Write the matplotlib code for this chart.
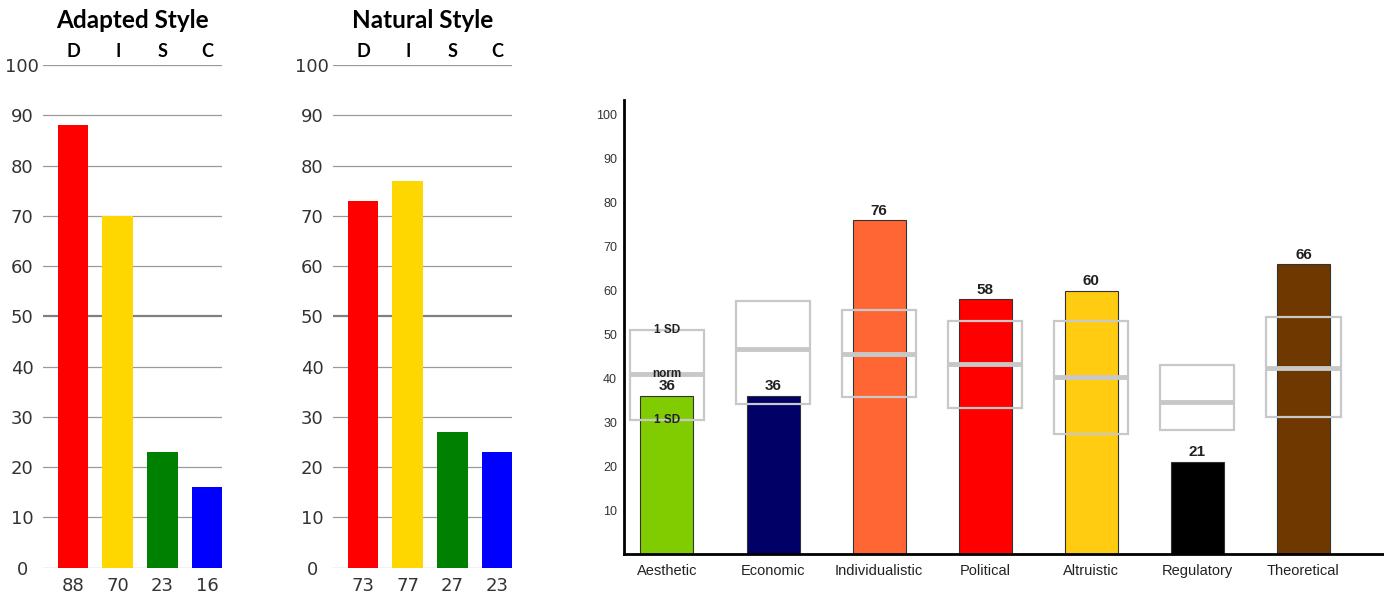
import matplotlib.pyplot as plt
import numpy as np

# DISC data
disc_letters = ['D', 'I', 'S', 'C']
adapted = [88, 70, 23, 16]
natural = [73, 77, 27, 23]
disc_colors = ['#ff0000', '#ffd700', '#008000', '#0000ff']
disc_ticks = [0, 10, 20, 30, 40, 50, 60, 70, 80, 90, 100]

# motivators data
motivators = ['Aesthetic', 'Economic', 'Individualistic', 'Political',
              'Altruistic', 'Regulatory', 'Theoretical']
scores = [36, 36, 76, 58, 60, 21, 66]
norm = [41, 46.7, 45.5, 43.2, 40.2, 34.7, 42.3]
sd_low = [30.5, 34.2, 35.8, 33.2, 27.3, 28.2, 31.3]
sd_high = [51, 57.7, 55.6, 53.1, 53.1, 43, 54]
mot_colors = ['#80cc00', '#000066', '#ff6633', '#ff0000',
              '#ffcc11', '#000000', '#6e3800']
mot_ticks = [10, 20, 30, 40, 50, 60, 70, 80, 90, 100]

fig = plt.figure(figsize=(13.84, 5.95), dpi=100)


def disc_chart(left, title, values):
    ax = fig.add_axes([left / 1384, 27.3 / 595, 179 / 1384, 502.7 / 595])
    x = np.arange(len(values))
    ax.bar(x, values, width=0.69, color=disc_colors, zorder=2)
    # gridlines, 50 is the darker one
    for t in disc_ticks:
        if t == 50:
            ax.axhline(t, color='#808080', lw=1.6, zorder=1)
        else:
            ax.axhline(t, color='#9a9a9a', lw=0.9, zorder=1)
    ax.set_xlim(-0.67, 3.33)
    ax.set_ylim(0, 100)
    for s in ax.spines.values():
        s.set_visible(False)
    ax.set_yticks(disc_ticks)
    ax.set_yticklabels([str(t) for t in disc_ticks], fontsize=13, color='#333333', ha='center')
    ax.tick_params(axis='y', length=0, pad=15)
    ax.set_xticks(x)
    ax.set_xticklabels([str(v) for v in values], fontsize=13, color='#333333')
    ax.tick_params(axis='x', length=0, pad=7)
    # DISC letters on top and the title
    for i, l in enumerate(disc_letters):
        ax.text(i, 1.026, l, transform=ax.get_xaxis_transform(), ha='center', va='center',
                fontsize=13, fontweight='bold', family='Lato')
    ax.text(0.5, 1.0895, title, transform=ax.transAxes, ha='center', va='center',
            fontsize=17.5, fontweight='bold', family='Lato')
    return ax


disc_chart(43, 'Adapted Style', adapted)
disc_chart(333, 'Natural Style', natural)

# motivators chart on the right
ax = fig.add_axes([624 / 1384, 41 / 595, 760 / 1384, 454 / 595])
x = np.arange(len(motivators))
ax.bar(x, scores, width=0.5, color=mot_colors, edgecolor='#333333', lw=0.8, zorder=2)

# norm boxes (1 SD either side) drawn over the bars
box_h = np.array(sd_high) - np.array(sd_low)
ax.bar(x, box_h, bottom=sd_low, width=0.7, fill=False, edgecolor='#c8c8c8', lw=1.6, zorder=3)
ax.hlines(norm, x - 0.35, x + 0.35, color='#c8c8c8', lw=3.5, zorder=3)

for i, v in enumerate(scores):
    ax.text(i, v + 0.6, str(v), ha='center', va='bottom', fontsize=11,
            fontweight='bold', color='#222222', family='Liberation Sans', zorder=5)

# labels on the first box only
ax.text(0, sd_high[0], '1 SD', ha='center', va='center', fontsize=8.5, fontweight='bold',
        color='#222222', family='Liberation Sans', zorder=5)
ax.text(0, norm[0], 'norm', ha='center', va='center', fontsize=8.5, fontweight='bold',
        color='#222222', family='Liberation Sans', zorder=5)
ax.text(0, sd_low[0], '1 SD', ha='center', va='center', fontsize=8.5, fontweight='bold',
        color='#222222', family='Liberation Sans', zorder=5)

ax.set_xlim(-0.405, 6.76)
ax.set_ylim(0, 103.4)
ax.spines['top'].set_visible(False)
ax.spines['right'].set_visible(False)
ax.spines['left'].set_linewidth(2)
ax.spines['bottom'].set_linewidth(2)
ax.set_yticks(mot_ticks)
ax.set_yticklabels([str(t) for t in mot_ticks], fontsize=9, color='#333333', family='Liberation Sans')
ax.tick_params(axis='y', length=0, pad=5)
ax.set_xticks(x)
ax.set_xticklabels(motivators, fontsize=10.5, color='#222222', family='Liberation Sans')
ax.tick_params(axis='x', length=0, pad=7)

fig.savefig('out.png', dpi=100)
